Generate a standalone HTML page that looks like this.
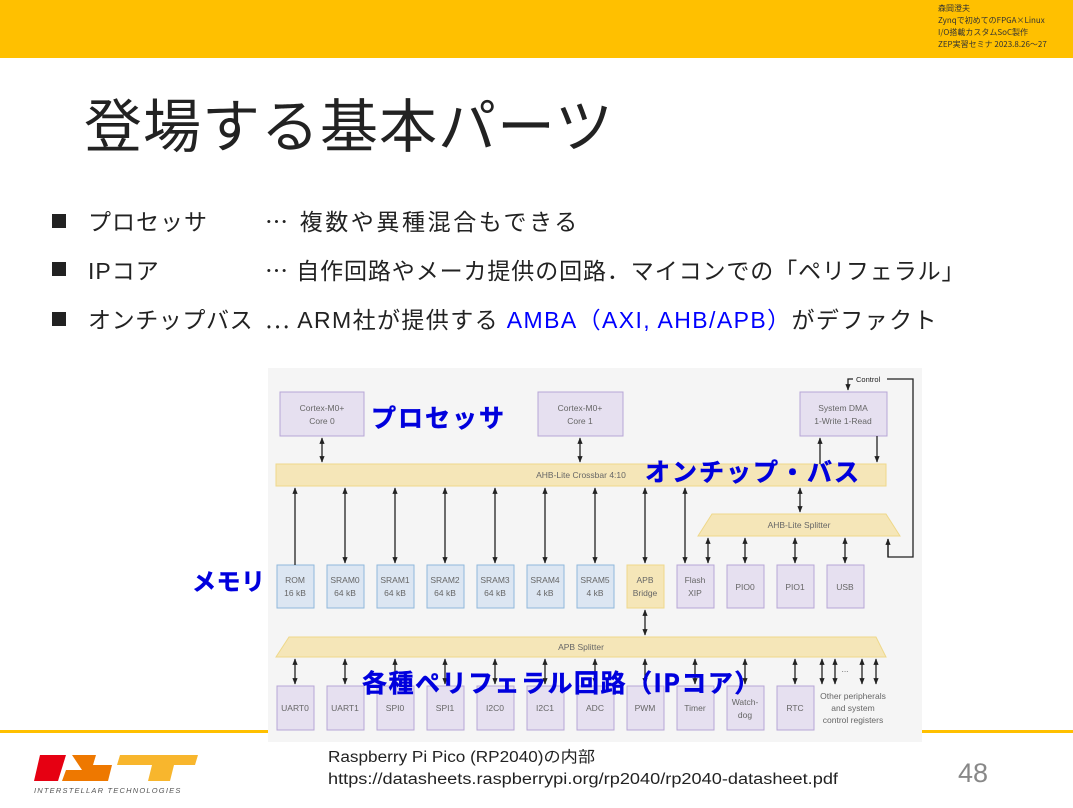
<!DOCTYPE html>
<html><head><meta charset="utf-8"><style>
html,body{margin:0;padding:0;background:#fff;width:1073px;height:808px;overflow:hidden}
svg{display:block}
text{font-family:"Liberation Sans","Noto Sans CJK JP",sans-serif}
.j{font-family:"Noto Sans CJK JP",sans-serif}
.bx{font-size:8.5px;fill:#666;text-anchor:middle}
</style></head><body>
<svg width="1073" height="808" viewBox="0 0 1073 808" xmlns="http://www.w3.org/2000/svg">
<defs>
<marker id="a" viewBox="0 0 10 10" refX="9" refY="5" markerWidth="5" markerHeight="5" orient="auto-start-reverse"><path d="M0,1 L10,5 L0,9 z" fill="#222"/></marker>
</defs>
<rect x="0" y="0" width="1073" height="58" fill="#FFC000"/>
<g font-size="8" fill="#333">
<text x="938" y="11" class="j">森岡澄夫</text>
<text x="938" y="23" class="j">Zynqで初めてのFPGA×Linux</text>
<text x="938" y="35" class="j">I/O搭載カスタムSoC製作</text>
<text x="938" y="47" class="j">ZEP実習セミナ 2023.8.26～27</text>
</g>
<text x="84" y="147" class="j" font-size="58" fill="#222" letter-spacing="1">登場する基本パーツ</text>
<g font-size="23" fill="#222">
<rect x="52" y="214" width="14" height="14" fill="#222"/>
<rect x="52" y="262" width="14" height="14" fill="#222"/>
<rect x="52" y="312" width="14" height="14" fill="#222"/>
<text x="88" y="230" letter-spacing="1">プロセッサ</text>
<text x="265" y="230" letter-spacing="2.6"><tspan class="j">…</tspan> 複数や異種混合もできる</text>
<text x="88" y="279" letter-spacing="1">IPコア</text>
<text x="265" y="279" letter-spacing="0.9"><tspan class="j">…</tspan> 自作回路やメーカ提供の回路．マイコンでの「ペリフェラル」</text>
<text x="88" y="328" letter-spacing="0.6">オンチップバス</text>
<text x="265" y="328" letter-spacing="1.4"><tspan class="j">…</tspan> ARM社が提供する <tspan fill="#0000ff">AMBA（AXI, AHB/APB）</tspan>がデファクト</text>
</g>
<rect x="0" y="730" width="268" height="3" fill="#FFC000"/>
<rect x="922" y="730" width="151" height="3" fill="#FFC000"/>
<rect x="268" y="368" width="654" height="374" fill="#f5f5f5"/>
<g stroke="#b7a6d6" fill="#e6e0f0" stroke-width="1">
<rect x="280" y="392" width="84" height="44"/>
<rect x="538" y="392" width="85" height="44"/>
<rect x="800" y="392" width="87" height="44"/>
</g>
<text x="322" y="411" class="bx">Cortex-M0+</text><text x="322" y="424" class="bx">Core 0</text>
<text x="580" y="411" class="bx">Cortex-M0+</text><text x="580" y="424" class="bx">Core 1</text>
<text x="843" y="411" class="bx">System DMA</text><text x="843" y="424" class="bx">1-Write 1-Read</text>
<rect x="276" y="464" width="610" height="22" fill="#f5e6b8" stroke="#eed88a"/>
<text x="581" y="478" class="bx">AHB-Lite Crossbar 4:10</text>
<polygon points="712,514 886,514 900,536 698,536" fill="#f5e6b8" stroke="#eed88a"/>
<text x="799" y="528" class="bx">AHB-Lite Splitter</text>
<polygon points="289,637 876,637 886,657 276,657" fill="#f5e6b8" stroke="#eed88a"/>
<text x="581" y="650" class="bx">APB Splitter</text>
<g stroke-width="1">
<g fill="#dce6f2" stroke="#8fb8dc">
<rect x="277" y="565" width="37" height="43"/><rect x="327" y="565" width="37" height="43"/><rect x="377" y="565" width="37" height="43"/><rect x="427" y="565" width="37" height="43"/><rect x="477" y="565" width="37" height="43"/><rect x="527" y="565" width="37" height="43"/><rect x="577" y="565" width="37" height="43"/>
</g>
<rect x="627" y="565" width="37" height="43" fill="#f5e6b8" stroke="#eed88a"/>
<g fill="#e6e0f0" stroke="#b7a6d6">
<rect x="677" y="565" width="37" height="43"/><rect x="727" y="565" width="37" height="43"/><rect x="777" y="565" width="37" height="43"/><rect x="827" y="565" width="37" height="43"/>
<rect x="277" y="686" width="37" height="44"/><rect x="327" y="686" width="37" height="44"/><rect x="377" y="686" width="37" height="44"/><rect x="427" y="686" width="37" height="44"/><rect x="477" y="686" width="37" height="44"/><rect x="527" y="686" width="37" height="44"/><rect x="577" y="686" width="37" height="44"/><rect x="627" y="686" width="37" height="44"/><rect x="677" y="686" width="37" height="44"/><rect x="727" y="686" width="37" height="44"/><rect x="777" y="686" width="37" height="44"/>
</g>
</g>
<g>
<text x="295" y="583" class="bx">ROM</text><text x="295" y="596" class="bx">16 kB</text>
<text x="345" y="583" class="bx">SRAM0</text><text x="345" y="596" class="bx">64 kB</text>
<text x="395" y="583" class="bx">SRAM1</text><text x="395" y="596" class="bx">64 kB</text>
<text x="445" y="583" class="bx">SRAM2</text><text x="445" y="596" class="bx">64 kB</text>
<text x="495" y="583" class="bx">SRAM3</text><text x="495" y="596" class="bx">64 kB</text>
<text x="545" y="583" class="bx">SRAM4</text><text x="545" y="596" class="bx">4 kB</text>
<text x="595" y="583" class="bx">SRAM5</text><text x="595" y="596" class="bx">4 kB</text>
<text x="645" y="583" class="bx">APB</text><text x="645" y="596" class="bx">Bridge</text>
<text x="695" y="583" class="bx">Flash</text><text x="695" y="596" class="bx">XIP</text>
<text x="745" y="590" class="bx">PIO0</text><text x="795" y="590" class="bx">PIO1</text><text x="845" y="590" class="bx">USB</text>
<text x="295" y="711" class="bx">UART0</text><text x="345" y="711" class="bx">UART1</text><text x="395" y="711" class="bx">SPI0</text><text x="445" y="711" class="bx">SPI1</text><text x="495" y="711" class="bx">I2C0</text><text x="545" y="711" class="bx">I2C1</text><text x="595" y="711" class="bx">ADC</text><text x="645" y="711" class="bx">PWM</text><text x="695" y="711" class="bx">Timer</text>
<text x="745" y="705" class="bx">Watch-</text><text x="745" y="718" class="bx">dog</text>
<text x="795" y="711" class="bx">RTC</text>
<text x="853" y="699" class="bx">Other peripherals</text><text x="853" y="711" class="bx">and system</text><text x="853" y="723" class="bx">control registers</text>
<text x="845" y="672" class="bx">...</text>
</g>
<g stroke="#222" stroke-width="1.3" fill="none">
<line x1="322" y1="438" x2="322" y2="462" marker-start="url(#a)" marker-end="url(#a)"/>
<line x1="580" y1="438" x2="580" y2="462" marker-start="url(#a)" marker-end="url(#a)"/>
<line x1="820" y1="464" x2="820" y2="438" marker-end="url(#a)"/>
<line x1="877" y1="436" x2="877" y2="462" marker-end="url(#a)"/>
<line x1="295" y1="565" x2="295" y2="488" marker-end="url(#a)"/>
<line x1="345" y1="488" x2="345" y2="563" marker-start="url(#a)" marker-end="url(#a)"/>
<line x1="395" y1="488" x2="395" y2="563" marker-start="url(#a)" marker-end="url(#a)"/>
<line x1="445" y1="488" x2="445" y2="563" marker-start="url(#a)" marker-end="url(#a)"/>
<line x1="495" y1="488" x2="495" y2="563" marker-start="url(#a)" marker-end="url(#a)"/>
<line x1="545" y1="488" x2="545" y2="563" marker-start="url(#a)" marker-end="url(#a)"/>
<line x1="595" y1="488" x2="595" y2="563" marker-start="url(#a)" marker-end="url(#a)"/>
<line x1="645" y1="488" x2="645" y2="563" marker-start="url(#a)" marker-end="url(#a)"/>
<line x1="685" y1="488" x2="685" y2="563" marker-start="url(#a)" marker-end="url(#a)"/>
<line x1="800" y1="488" x2="800" y2="512" marker-start="url(#a)" marker-end="url(#a)"/>
<line x1="708" y1="538" x2="708" y2="563" marker-start="url(#a)" marker-end="url(#a)"/>
<line x1="745" y1="538" x2="745" y2="563" marker-start="url(#a)" marker-end="url(#a)"/>
<line x1="795" y1="538" x2="795" y2="563" marker-start="url(#a)" marker-end="url(#a)"/>
<line x1="845" y1="538" x2="845" y2="563" marker-start="url(#a)" marker-end="url(#a)"/>
<line x1="645" y1="610" x2="645" y2="635" marker-start="url(#a)" marker-end="url(#a)"/>
<line x1="295" y1="659" x2="295" y2="684" marker-start="url(#a)" marker-end="url(#a)"/>
<line x1="345" y1="659" x2="345" y2="684" marker-start="url(#a)" marker-end="url(#a)"/>
<line x1="395" y1="659" x2="395" y2="684" marker-start="url(#a)" marker-end="url(#a)"/>
<line x1="445" y1="659" x2="445" y2="684" marker-start="url(#a)" marker-end="url(#a)"/>
<line x1="495" y1="659" x2="495" y2="684" marker-start="url(#a)" marker-end="url(#a)"/>
<line x1="545" y1="659" x2="545" y2="684" marker-start="url(#a)" marker-end="url(#a)"/>
<line x1="595" y1="659" x2="595" y2="684" marker-start="url(#a)" marker-end="url(#a)"/>
<line x1="645" y1="659" x2="645" y2="684" marker-start="url(#a)" marker-end="url(#a)"/>
<line x1="695" y1="659" x2="695" y2="684" marker-start="url(#a)" marker-end="url(#a)"/>
<line x1="745" y1="659" x2="745" y2="684" marker-start="url(#a)" marker-end="url(#a)"/>
<line x1="795" y1="659" x2="795" y2="684" marker-start="url(#a)" marker-end="url(#a)"/>
<line x1="822" y1="659" x2="822" y2="684" marker-start="url(#a)" marker-end="url(#a)"/>
<line x1="835" y1="659" x2="835" y2="684" marker-start="url(#a)" marker-end="url(#a)"/>
<line x1="862" y1="659" x2="862" y2="684" marker-start="url(#a)" marker-end="url(#a)"/>
<line x1="876" y1="659" x2="876" y2="684" marker-start="url(#a)" marker-end="url(#a)"/>
<polyline points="888,539 888,557 913,557 913,379 887,379"/>
<polyline points="853,379 848,379 848,390" marker-end="url(#a)"/>
<line x1="888" y1="557" x2="888" y2="539" marker-end="url(#a)"/>
</g>
<text x="856" y="382" font-size="7.5" fill="#222">Control</text>
<g fill="#0000dd" font-weight="bold" stroke="#0000dd" stroke-width="0.5">
<text x="371" y="427" font-size="25" class="j" letter-spacing="2">プロセッサ</text>
<text x="645" y="481" font-size="25" class="j" letter-spacing="2">オンチップ・バス</text>
<text x="192" y="590" font-size="24" class="j" letter-spacing="0.5">メモリ</text>
<text x="362" y="692" font-size="25" class="j" letter-spacing="1.5">各種ペリフェラル回路（IPコア）</text>
</g>
<polygon points="40,755 66,755 58,781 34,781" fill="#e60012"/>
<polygon points="72,755 96,755 93,765 112,765 108,781 62,781 66,770 82,770" fill="#ee7800" />
<polygon points="120,755 198,755 195,765 174,765 170,781 148,781 152,765 117,765" fill="#f8b62d"/>
<text x="34" y="793" font-size="7.5" font-style="italic" fill="#555" letter-spacing="1.2">INTERSTELLAR TECHNOLOGIES</text>
<text x="328" y="762" font-size="15.5" fill="#222" textLength="267" lengthAdjust="spacingAndGlyphs">Raspberry Pi Pico (RP2040)の内部</text>
<text x="328" y="784" font-size="15.5" fill="#222" textLength="510" lengthAdjust="spacingAndGlyphs">https://datasheets.raspberrypi.org/rp2040/rp2040-datasheet.pdf</text>
<text x="958" y="782" font-size="27" fill="#888">48</text>
</svg>
</body></html>
